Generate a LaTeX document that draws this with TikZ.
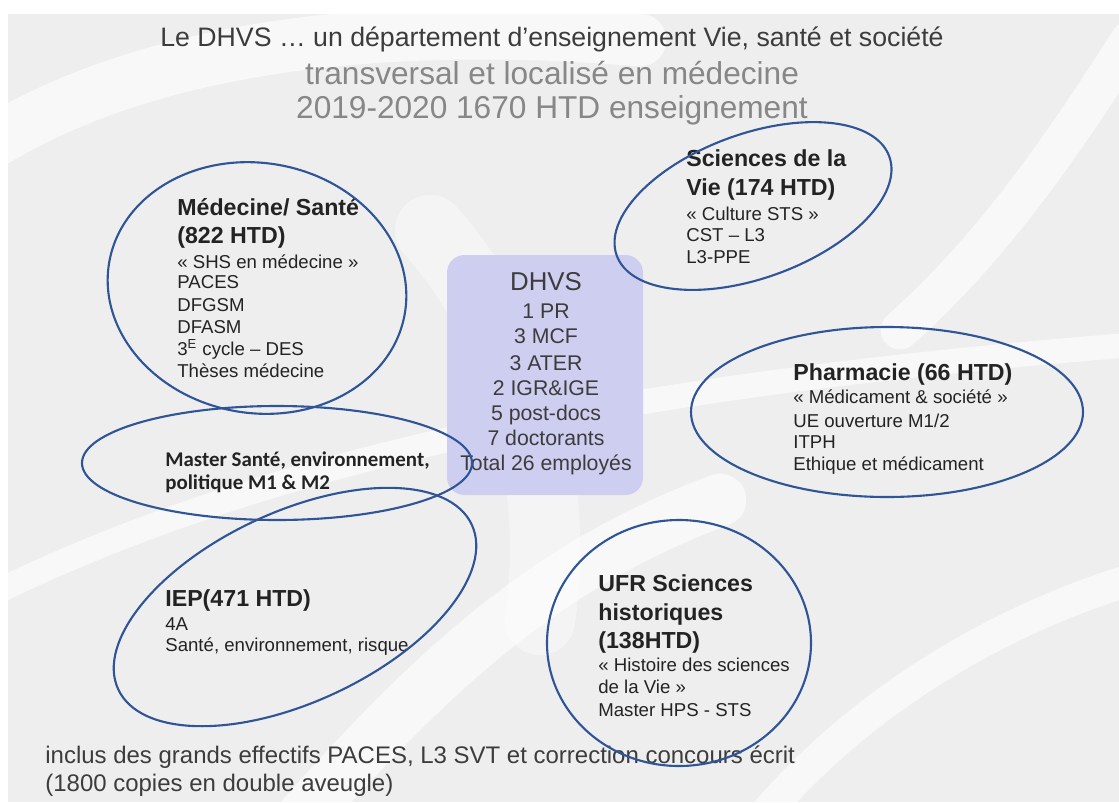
\documentclass[tikz,border=0pt]{standalone}
\usepackage{fontspec}
\setmainfont{Liberation Sans}
\newfontfamily\calibri{Carlito}
\definecolor{ellc}{RGB}{47,85,151}
\definecolor{boxc}{RGB}{206,206,240}
\definecolor{ttlc}{RGB}{60,60,60}
\definecolor{subc}{RGB}{135,135,135}
\definecolor{bgc}{RGB}{238,238,238}
\definecolor{txc}{RGB}{35,35,35}
\begin{document}
\begin{tikzpicture}[x=0.02cm,y=-0.02cm,
  ellipseline/.style={draw=ellc,line width=1.2pt},
  band/.style={white,line cap=round,opacity=0.6},
  hd/.style={anchor=base west,inner sep=0pt,text=txc,font=\bfseries\fontsize{13.2}{15}\selectfont},
  tx/.style={anchor=base west,inner sep=0pt,text=txc,font=\fontsize{10.6}{12}\selectfont},
  ms/.style={anchor=base west,inner sep=0pt,text=txc,font=\calibri\bfseries\fontsize{11.9}{13}\selectfont},
  dh/.style={anchor=base,inner sep=0pt,text=ttlc,font=\fontsize{12.1}{14}\selectfont},
  ttl/.style={anchor=base,inner sep=0pt,text=ttlc,font=\fontsize{15.2}{17}\selectfont},
  sub/.style={anchor=base,inner sep=0pt,text=subc,font=\fontsize{18}{20}\selectfont},
  bot/.style={anchor=base west,inner sep=0pt,text=ttlc,font=\fontsize{13.65}{16}\selectfont}]
\useasboundingbox (0,0) rectangle (1119,802);
% background
\fill[white] (0,0) rectangle (1119,802);
\fill[bgc] (8,14) rectangle (1119,802);
\draw[band,line width=30pt] (-20,150) .. controls (150,40) and (400,20) .. (640,40);
\draw[band,line width=22pt] (1130,40) .. controls (1060,150) and (990,250) .. (900,330);
\draw[band,line width=14pt] (-20,600) .. controls (300,440) and (700,380) .. (1130,345);
\draw[band,line width=30pt] (300,820) .. controls (450,650) and (560,560) .. (720,500);
\draw[band,line width=18pt] (760,820) .. controls (860,700) and (1000,620) .. (1130,580);
\draw[band,line width=40pt,opacity=0.4] (430,230) .. controls (520,330) and (560,480) .. (540,620);
% DHVS box
\fill[boxc,rounded corners=10pt] (447,255) rectangle (643,495);
% titles
\node[ttl] (t1) at (552,46) {Le DHVS … un département d’enseignement Vie, santé et société};
\node[sub] (t2) at (552,84) {transversal et localisé en médecine};
\node[sub] (t3) at (552,118) {2019-2020 1670 HTD enseignement};
% DHVS content
\node[dh,font=\fontsize{14.7}{16}\selectfont] (dhvs) at (546,290) {DHVS};
\foreach \t/\y [count=\i] in {1 PR/318, 3 MCF/343, 3 ATER/370, 2 IGR\&IGE/395, 5 post-docs/420, 7 doctorants/445, Total 26 employés/470}
  {\node[dh,name=dh\i] at (546,\y) {\t};}
% Medecine
\node[hd] (medh1) at (177,215) {Médecine/ Santé};
\node[hd] (medh2) at (177,243) {(822 HTD)};
\foreach \t/\y [count=\i] in {{« SHS en médecine »}/268, PACES/288, DFGSM/311, DFASM/333, {3\textsuperscript{E} cycle – DES}/355, Thèses médecine/377}
  {\node[tx,name=med\i] at (177,\y) {\t};}
% Sciences de la Vie
\node[hd] (svh1) at (686,166.5) {Sciences de la};
\node[hd] (svh2) at (686,195) {Vie (174 HTD)};
\foreach \t/\y [count=\i] in {{« Culture STS »}/220, CST – L3/241.5, L3-PPE/263}
  {\node[tx,name=sv\i] at (686,\y) {\t};}
% Pharmacie
\node[hd] (phh) at (793,380) {Pharmacie (66 HTD)};
\foreach \t/\y [count=\i] in {{« Médicament \& société »}/403, {UE ouverture M1/2}/427, ITPH/448, Ethique et médicament/470}
  {\node[tx,name=ph\i] at (793,\y) {\t};}
% Master
\node[ms] (ms1) at (165,466.5) {Master Santé, environnement,};
\node[ms] (ms2) at (165,489) {politique M1 \& M2};
% IEP
\node[hd] (ieph) at (165,606.5) {IEP(471 HTD)};
\node[tx] (iep1) at (165,630) {4A};
\node[tx] (iep2) at (165,651.5) {Santé, environnement, risque};
% UFR
\node[hd] (ufh1) at (598,591.5) {UFR Sciences};
\node[hd] (ufh2) at (598,620) {historiques};
\node[hd] (ufh3) at (598,648) {(138HTD)};
\foreach \t/\y [count=\i] in {{« Histoire des sciences}/671.5, {de la Vie »}/693, Master HPS - STS/716.5}
  {\node[tx,name=uf\i] at (598,\y) {\t};}
% bottom
\node[bot] (b1) at (45,763) {inclus des grands effectifs PACES, L3 SVT et correction concours écrit};
\node[bot] (b2) at (45,791) {(1800 copies en double aveugle)};
% ellipses
\draw[ellipseline,rotate around={-10:(257,288)}] (257,288) ellipse [x radius=150,y radius=125];
\draw[ellipseline,rotate around={20:(753,206)}] (753,206) ellipse [x radius=145,y radius=72];
\draw[ellipseline] (887,412) ellipse [x radius=196,y radius=85];
\draw[ellipseline] (277,463) ellipse [x radius=195,y radius=57];
\draw[ellipseline,rotate around={25:(295,607)}] (295,607) ellipse [x radius=195,y radius=95];
\draw[ellipseline] (679,643) ellipse [x radius=132,y radius=123];
\end{tikzpicture}
\end{document}
